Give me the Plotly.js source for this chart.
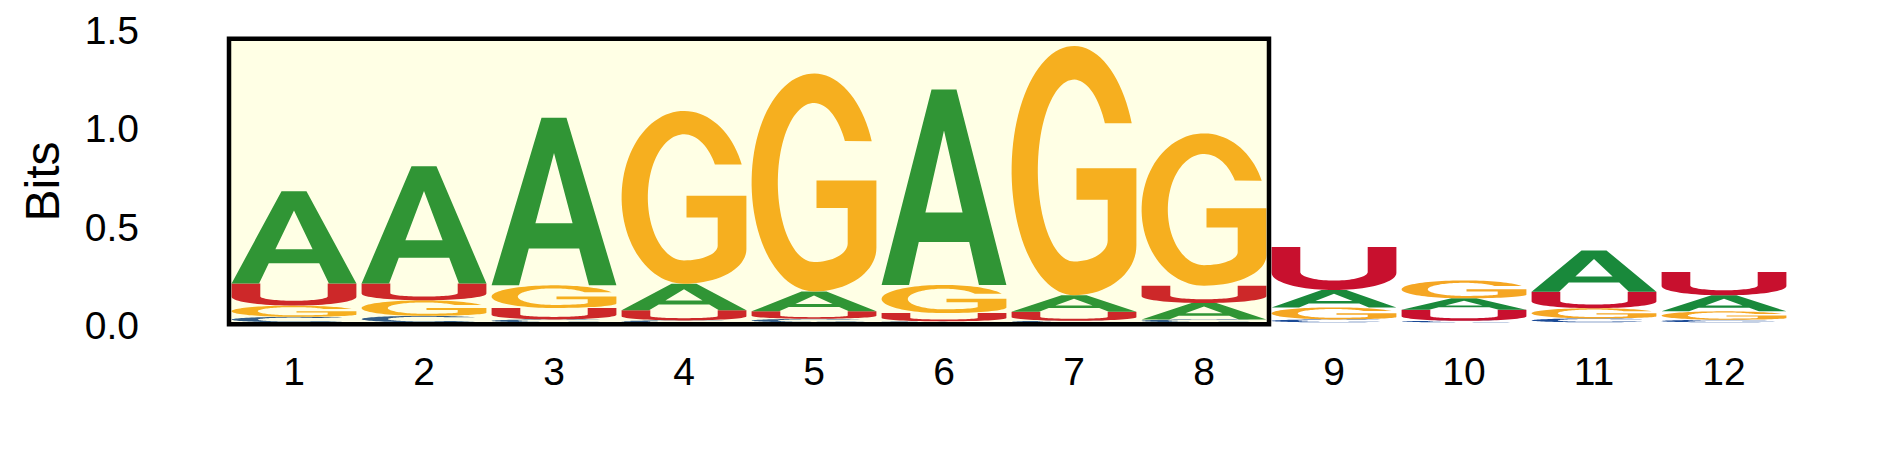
<!DOCTYPE html>
<html>
<head>
<meta charset="utf-8">
<script src="https://cdn.plot.ly/plotly-3.0.1.min.js"></script>
<style>html,body{margin:0;padding:0;background:#fff;}#chart{width:1889px;height:472px;}</style>
</head>
<body>
<div id="chart"></div>
<script>
// ---- data (information content in bits per letter, per position) ----
const positions = [1, 2, 3, 4, 5, 6, 7, 8, 9, 10, 11, 12];
const positionLabels = ['1','2','3','4','5','6','7','8','9','10','11','12'];
const bitsA = [0.469, 0.595, 0.850, 0.135, 0.101, 0.992, 0.084, 0.083, 0.088, 0.058, 0.209, 0.081];
const bitsC = [0.028, 0.033, 0.015, 0.010, 0.018, 0.005, 0.008, 0.015, 0.015, 0.008, 0.020, 0.013];
const bitsG = [0.057, 0.079, 0.115, 0.877, 1.106, 0.143, 1.265, 0.773, 0.061, 0.091, 0.052, 0.043];
const bitsU = [0.112, 0.085, 0.058, 0.051, 0.038, 0.042, 0.046, 0.088, 0.218, 0.056, 0.084, 0.118];
const yTickVals = [0, 0.5, 1.0, 1.5];
const yTickText = ['0.0', '0.5', '1.0', '1.5'];
const highlightFirst = 1;   // highlighted motif start position
const highlightLast = 8;    // highlighted motif end position
const highlightTop = 1.44;  // bits

const letterColors = {A: '#19893b', C: '#1b4a96', G: '#f5a623', U: '#c8102e'};
const letterWidth = 0.96;

// ---- glyph outlines in a unit box (u right, v up) ----
function arc(cx, cy, rx, ry, a0, a1, n) {
  const pts = [];
  for (let i = 0; i <= n; i++) {
    const a = (a0 + (a1 - a0) * i / n) * Math.PI / 180;
    pts.push([cx + rx * Math.cos(a), cy + ry * Math.sin(a)]);
  }
  return pts;
}
const glyphs = {
  A: [
    [[0,0],[0.40,1],[0.60,1],[1,0],[0.78,0],[0.702,0.22],[0.298,0.22],[0.22,0]],
    [[0.351,0.37],[0.649,0.37],[0.5,0.79]]
  ],
  U: [
    [[0,1],[0,0.4]].concat(arc(0.5,0.4,0.5,0.4,180,360,40))
      .concat([[1,1],[0.77,1],[0.77,0.42]])
      .concat(arc(0.5,0.42,0.27,0.2,360,180,40))
      .concat([[0.23,1]])
  ],
  G: [
    arc(0.5,0.5,0.5,0.5,22.3,270,70)
      .concat(arc(0.5,0.2,0.5,0.2,270,360,20))
      .concat([[1,0.509],[0.52,0.509],[0.52,0.383],[0.77,0.383],[0.77,0.22]])
      .concat(arc(0.5,0.22,0.27,0.085,360,270,16))
      .concat(arc(0.5,0.5,0.29,0.365,270,31.4,70))
  ],
  C: [
    arc(0.5,0.5,0.5,0.5,35,325,80)
      .concat(arc(0.5,0.5,0.29,0.365,308.2,51.8,80))
  ]
};

function glyphPath(letter, xc, y0, h) {
  const left = xc - letterWidth / 2;
  return glyphs[letter].map(poly =>
    'M' + poly.map(p => (left + p[0] * letterWidth).toFixed(5) + ',' + (y0 + p[1] * h).toFixed(5)).join('L') + 'Z'
  ).join('');
}

const series = {A: bitsA, C: bitsC, G: bitsG, U: bitsU};
const shapes = [];
const totals = [];
positions.forEach((pos, i) => {
  const stack = ['A','C','G','U'].map(l => ({l: l, h: series[l][i]}))
    .sort((a, b) => a.h - b.h);
  let y = 0;
  stack.forEach(s => {
    shapes.push({
      type: 'path', xref: 'x', yref: 'y', layer: 'above',
      path: glyphPath(s.l, pos, y, s.h),
      fillcolor: letterColors[s.l], line: {width: 0}
    });
    y += s.h;
  });
  totals.push(y);
});
// highlighted region box (semi-transparent yellow overlay with black frame)
shapes.push({
  type: 'rect', xref: 'x', yref: 'y', layer: 'above',
  x0: highlightFirst - 0.5, x1: highlightLast + 0.5, y0: -0.01, y1: highlightTop,
  fillcolor: 'rgba(255,255,0,0.1)', line: {color: '#000', width: 4.5}
});

const trace = {
  type: 'scatter', mode: 'markers', x: positions, y: totals,
  marker: {opacity: 0, size: 1}, hoverinfo: 'x+y', showlegend: false
};

const font = 'Liberation Sans, Arial, Helvetica, sans-serif';
const layout = {
  width: 1889, height: 472,
  margin: {l: 216, r: 87, t: 17, b: 126},
  paper_bgcolor: '#ffffff', plot_bgcolor: '#ffffff',
  showlegend: false,
  xaxis: {
    range: [0.4, 12.6], tickvals: positions, ticktext: positionLabels,
    showgrid: false, zeroline: false, showline: false, ticks: '',
    tickfont: {family: font, size: 39, color: '#000'}, ticklabelstandoff: -1
  },
  yaxis: {
    range: [-0.12, 1.55], tickvals: yTickVals, ticktext: yTickText,
    showgrid: false, zeroline: false, showline: false, ticks: '',
    tickfont: {family: font, size: 39, color: '#000'}, ticklabelstandoff: 76,
    ticklabelshift: 3,
    title: {text: 'Bits', font: {family: font, size: 48, color: '#000'}, standoff: 9}
  },
  shapes: shapes
};
Plotly.newPlot('chart', [trace], layout, {displayModeBar: false, staticPlot: true});
</script>
</body>
</html>
